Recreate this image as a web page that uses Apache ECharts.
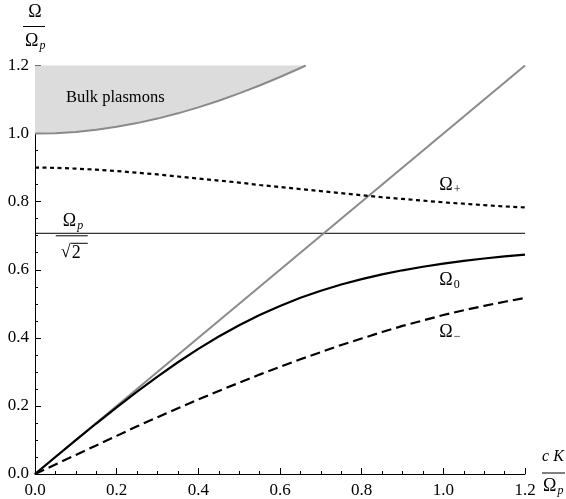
<!DOCTYPE html>
<html>
<head>
<meta charset="utf-8">
<script src="https://cdn.jsdelivr.net/npm/echarts@6/dist/echarts.min.js"></script>
<style>
  html, body { margin: 0; padding: 0; background: #fff; }
  #chart { width: 566px; height: 499px; }
</style>
</head>
<body>
<div id="chart"></div>
<script>
// Wavevector c K / Ωp sampled every 0.05
const kValues = [0, 0.05, 0.1, 0.15, 0.2, 0.25, 0.3, 0.35, 0.4, 0.45, 0.5, 0.55, 0.6,
  0.65, 0.7, 0.75, 0.8, 0.85, 0.9, 0.95, 1.0, 1.05, 1.1, 1.15, 1.2];

// Upper mode Ω+ (dotted)
const omegaPlus = [0.900, 0.8995, 0.897, 0.894, 0.890, 0.885, 0.880, 0.874, 0.868, 0.862,
  0.856, 0.849, 0.843, 0.837, 0.831, 0.825, 0.819, 0.813, 0.808, 0.803, 0.798, 0.794,
  0.790, 0.786, 0.783];

// Surface plasmon Ω0 (solid)
const omegaZero = [0, 0.0499, 0.0995, 0.1483, 0.1960, 0.2421, 0.2863, 0.3282, 0.3675,
  0.4038, 0.4370, 0.4670, 0.4938, 0.5176, 0.5385, 0.5567, 0.5726, 0.5864, 0.5984,
  0.6089, 0.6180, 0.6260, 0.6331, 0.6392, 0.6447];

// Lower mode Ω− (dashed)
const omegaMinus = [0, 0.028, 0.056, 0.084, 0.112, 0.140, 0.167, 0.193, 0.219, 0.244,
  0.268, 0.292, 0.315, 0.337, 0.358, 0.379, 0.398, 0.417, 0.435, 0.451, 0.467, 0.481,
  0.494, 0.506, 0.517];

// Lower edge of the bulk plasmon band
const bulkK = [0, 0.05, 0.1, 0.15, 0.2, 0.25, 0.3, 0.35, 0.4, 0.45, 0.5, 0.55, 0.6, 0.65, 0.663];
const bulkOmega = [1.0, 1.00125, 1.00499, 1.01119, 1.0198, 1.03078, 1.04403, 1.05948,
  1.07703, 1.09659, 1.11803, 1.14127, 1.16619, 1.19269, 1.2];

// Light line endpoints and the Ωp/√2 asymptote
const lightLineK = [0, 1.2];
const lightLineOmega = [0, 1.2];
const asymptoteK = [0, 1.2];
const asymptoteOmega = [0.7071, 0.7071];

const xTicks = [0, 0.2, 0.4, 0.6, 0.8, 1.0, 1.2];
const yTicks = [0, 0.2, 0.4, 0.6, 0.8, 1.0, 1.2];

const SERIF = "'Liberation Serif', 'DejaVu Serif', serif";

function pairs(xs, ys) { return xs.map((x, i) => [x, ys[i]]); }

const chart = echarts.init(document.getElementById('chart'), null, { renderer: 'canvas' });

function axisCommon(ticks) {
  return {
    type: 'value',
    min: ticks[0],
    max: ticks[ticks.length - 1],
    interval: 0.2,
    axisLine: { show: true, lineStyle: { color: '#000', width: 1 } },
    axisTick: { show: true, inside: true, length: 6, lineStyle: { color: '#000', width: 1 } },
    minorTick: { show: true, splitNumber: 4, length: 3, lineStyle: { color: '#000', width: 1 } },
    splitLine: { show: false },
    axisLabel: {
      color: '#000', fontFamily: SERIF, fontSize: 17,
      formatter: v => v.toFixed(1), showMinLabel: true, showMaxLabel: true
    }
  };
}

const xAxis = axisCommon(xTicks);
xAxis.axisLabel.margin = 8;
const yAxis = axisCommon(yTicks);
yAxis.axisLabel.margin = 6;

chart.setOption({
  animation: false,
  backgroundColor: '#fff',
  grid: { left: 35, right: 41, top: 65.5, bottom: 25 },
  xAxis: xAxis,
  yAxis: yAxis,
  series: [
    {
      name: 'bulk', type: 'line', data: pairs(bulkK, bulkOmega), symbol: 'none',
      lineStyle: { color: '#8a8a8a', width: 2 },
      areaStyle: { color: '#dcdcdc', opacity: 1, origin: 'end' }, z: 1
    },
    {
      name: 'asymptote', type: 'line', data: pairs(asymptoteK, asymptoteOmega), symbol: 'none',
      lineStyle: { color: '#000', width: 1 }, z: 2
    },
    {
      name: 'light', type: 'line', data: pairs(lightLineK, lightLineOmega), symbol: 'none',
      lineStyle: { color: '#8a8a8a', width: 2 }, z: 3
    },
    {
      name: 'Ω+', type: 'line', data: pairs(kValues, omegaPlus), symbol: 'none',
      lineStyle: { color: '#000', width: 2.2, type: [4, 3.5] }, z: 4
    },
    {
      name: 'Ω0', type: 'line', data: pairs(kValues, omegaZero), symbol: 'none',
      lineStyle: { color: '#000', width: 2.2 }, z: 4
    },
    {
      name: 'Ω−', type: 'line', data: pairs(kValues, omegaMinus), symbol: 'none',
      lineStyle: { color: '#000', width: 2.2, type: [10, 5] }, z: 4
    }
  ]
});

// Text helpers for symbols with subscripts and stacked fractions
function txt(x, y, s, size, opts) {
  opts = opts || {};
  return {
    type: 'text', z: 100,
    style: {
      x: x, y: y, text: s, fill: '#000',
      font: (opts.italic ? 'italic ' : '') + size + 'px ' + SERIF,
      align: opts.align || 'center', verticalAlign: 'middle',
      textAlign: opts.align || 'center', textVerticalAlign: 'middle'
    }
  };
}
function bar(x1, x2, y, w) {
  return {
    type: 'line', z: 100,
    shape: { x1: x1, y1: y, x2: x2, y2: y },
    style: { stroke: '#000', lineWidth: w || 1 }
  };
}
// Ω with a subscript, left edge at x, vertical centre at y
function omegaSub(x, y, sub, italicSub) {
  return [
    txt(x, y, 'Ω', 18, { align: 'left' }),
    txt(x + 14.5, y + 5, sub, 12, { align: 'left', italic: italicSub })
  ];
}

const px = p => chart.convertToPixel({ gridIndex: 0 }, p);

const els = [];
// Vertical axis title Ω / Ωp
els.push(txt(35, 12, 'Ω', 18));
els.push(bar(23, 45, 26.5));
els.push(...omegaSub(25, 41, 'p', true));
// Horizontal axis title cK / Ωp
els.push(txt(553, 457, 'c K', 16, { italic: true }));
els.push(bar(542, 565, 473));
els.push(...omegaSub(543, 486, 'p', true));

// Ωp/√2 beside the asymptote
const asy = px([0.09, 0.7071]);
els.push(...omegaSub(asy[0] - 9, asy[1] - 12, 'p', true));
els.push(bar(asy[0] - 16, asy[0] + 16, asy[1] + 2.5));
els.push(txt(asy[0] - 11, asy[1] + 19, '√', 18, { align: 'left' }));
els.push(bar(asy[0] - 1, asy[0] + 16, asy[1] + 10));
els.push(txt(asy[0], asy[1] + 20, '2', 18, { align: 'left' }));

// Band and branch labels
const bulk = px([0.076, 1.105]);
els.push(txt(bulk[0], bulk[1], 'Bulk plasmons', 16.5, { align: 'left' }));
const lp = px([0.99, 0.849]);
els.push(...omegaSub(lp[0], lp[1], '+', false));
const l0 = px([0.99, 0.570]);
els.push(...omegaSub(l0[0], l0[1], '0', false));
const lm = px([0.99, 0.417]);
els.push(...omegaSub(lm[0], lm[1], '−', false));

chart.setOption({ graphic: { elements: els } });
</script>
</body>
</html>
